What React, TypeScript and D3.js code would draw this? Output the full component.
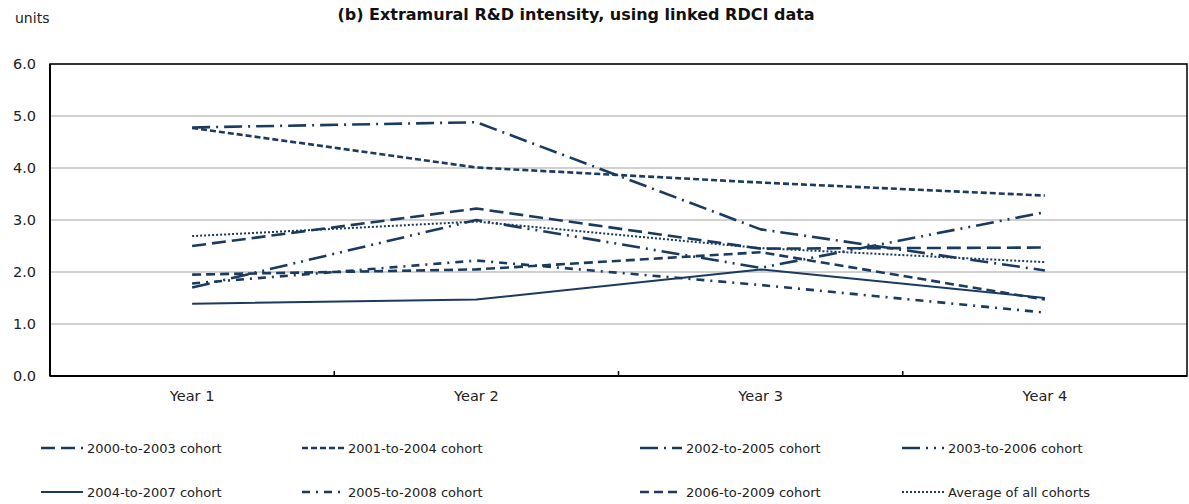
import React from "react";
import * as d3 from "d3";

// categories and series values (units)
const years = ["Year 1", "Year 2", "Year 3", "Year 4"];
const yTicks = [0, 1, 2, 3, 4, 5, 6];

const cohortNames = [
  "2000-to-2003 cohort",
  "2001-to-2004 cohort",
  "2002-to-2005 cohort",
  "2003-to-2006 cohort",
  "2004-to-2007 cohort",
  "2005-to-2008 cohort",
  "2006-to-2009 cohort",
  "Average of all cohorts",
];

const c2000 = [2.5, 3.22, 2.45, 2.47];
const c2001 = [4.77, 4.01, 3.72, 3.47];
const c2002 = [4.78, 4.88, 2.82, 2.03];
const c2003 = [1.7, 3.0, 2.08, 3.15];
const c2004 = [1.39, 1.47, 2.05, 1.5];
const c2005 = [1.78, 2.22, 1.75, 1.22];
const c2006 = [1.95, 2.05, 2.38, 1.47];
const cAvg = [2.69, 2.97, 2.46, 2.19];

const seriesValues = [c2000, c2001, c2002, c2003, c2004, c2005, c2006, cAvg];

// styles, one per series
const NAVY = "#1b3a60";
const dashes = [
  "14,6",
  "6,3",
  "18,6,2,6",
  "18,6,2,6,2,6",
  null,
  "8,6,2,6",
  "9,5",
  "2,2",
];
const widths = [2.6, 2.6, 2.6, 2.6, 2, 2.6, 2.6, 2];

const W = 1189;
const H = 504;
const plot = { left: 50, right: 1187, top: 64, bottom: 376 };
const legendCols = [41, 302, 640, 902];
const legendRows = [448, 492];
const FONT = "'DejaVu Sans', Verdana, sans-serif";

export default function App() {
  const x = d3.scaleBand().domain(years).range([plot.left, plot.right]);
  const y = d3.scaleLinear().domain([0, 6]).range([plot.bottom, plot.top]);

  const line = d3
    .line<number>()
    .x((d, i) => (x(years[i]) as number) + x.bandwidth() / 2)
    .y((d) => y(d));

  const boundaries = years.slice(1).map((yr) => x(yr) as number);

  return (
    <svg
      width={W}
      height={H}
      style={{ position: "absolute", left: 0, top: 0, background: "#fff" }}
      fontFamily={FONT}
    >
      <text x={15} y={23} fontSize={14} fill="#222">units</text>
      <text x={576} y={20} fontSize={16} fontWeight="bold" textAnchor="middle" fill="#111">
        (b) Extramural R&amp;D intensity, using linked RDCI data
      </text>

      {/* gridlines */}
      {yTicks.map((t) => (
        <line key={t} x1={plot.left} x2={plot.right} y1={y(t)} y2={y(t)} stroke="#c0c0c0" strokeWidth={1.5} />
      ))}

      {/* y labels */}
      {yTicks.map((t) => (
        <text key={t} x={36} y={y(t)} dy="0.35em" fontSize={14.5} textAnchor="end" fill="#222">
          {d3.format(".1f")(t)}
        </text>
      ))}

      {/* series */}
      {seriesValues.map((vals, i) => (
        <path
          key={cohortNames[i]}
          d={line(vals) as string}
          fill="none"
          stroke={NAVY}
          strokeWidth={widths[i]}
          strokeDasharray={dashes[i] ?? undefined}
          strokeLinejoin="round"
        />
      ))}

      {/* frame */}
      <rect x={plot.left} y={plot.top} width={plot.right - plot.left} height={plot.bottom - plot.top}
        fill="none" stroke="#000" strokeWidth={1.5} />
      <line x1={plot.left} x2={plot.left} y1={plot.top} y2={plot.bottom} stroke="#000" strokeWidth={2} />
      <line x1={plot.left} x2={plot.right} y1={plot.bottom} y2={plot.bottom} stroke="#000" strokeWidth={2} />
      {boundaries.map((bx) => (
        <line key={bx} x1={bx} x2={bx} y1={plot.bottom} y2={plot.bottom - 5} stroke="#000" strokeWidth={1.5} />
      ))}

      {/* x labels */}
      {years.map((yr) => (
        <text key={yr} x={(x(yr) as number) + x.bandwidth() / 2} y={401} fontSize={14.5} textAnchor="middle" fill="#222">
          {yr}
        </text>
      ))}

      {/* legend */}
      {cohortNames.map((name, i) => {
        const lx = legendCols[i % 4];
        const ly = legendRows[Math.floor(i / 4)];
        return (
          <g key={name}>
            <line x1={lx} x2={lx + 42} y1={ly} y2={ly} stroke={NAVY} strokeWidth={widths[i]}
              strokeDasharray={dashes[i] ?? undefined} />
            <text x={lx + 46} y={ly} dy="0.35em" fontSize={13} fill="#222">{name}</text>
          </g>
        );
      })}
    </svg>
  );
}
